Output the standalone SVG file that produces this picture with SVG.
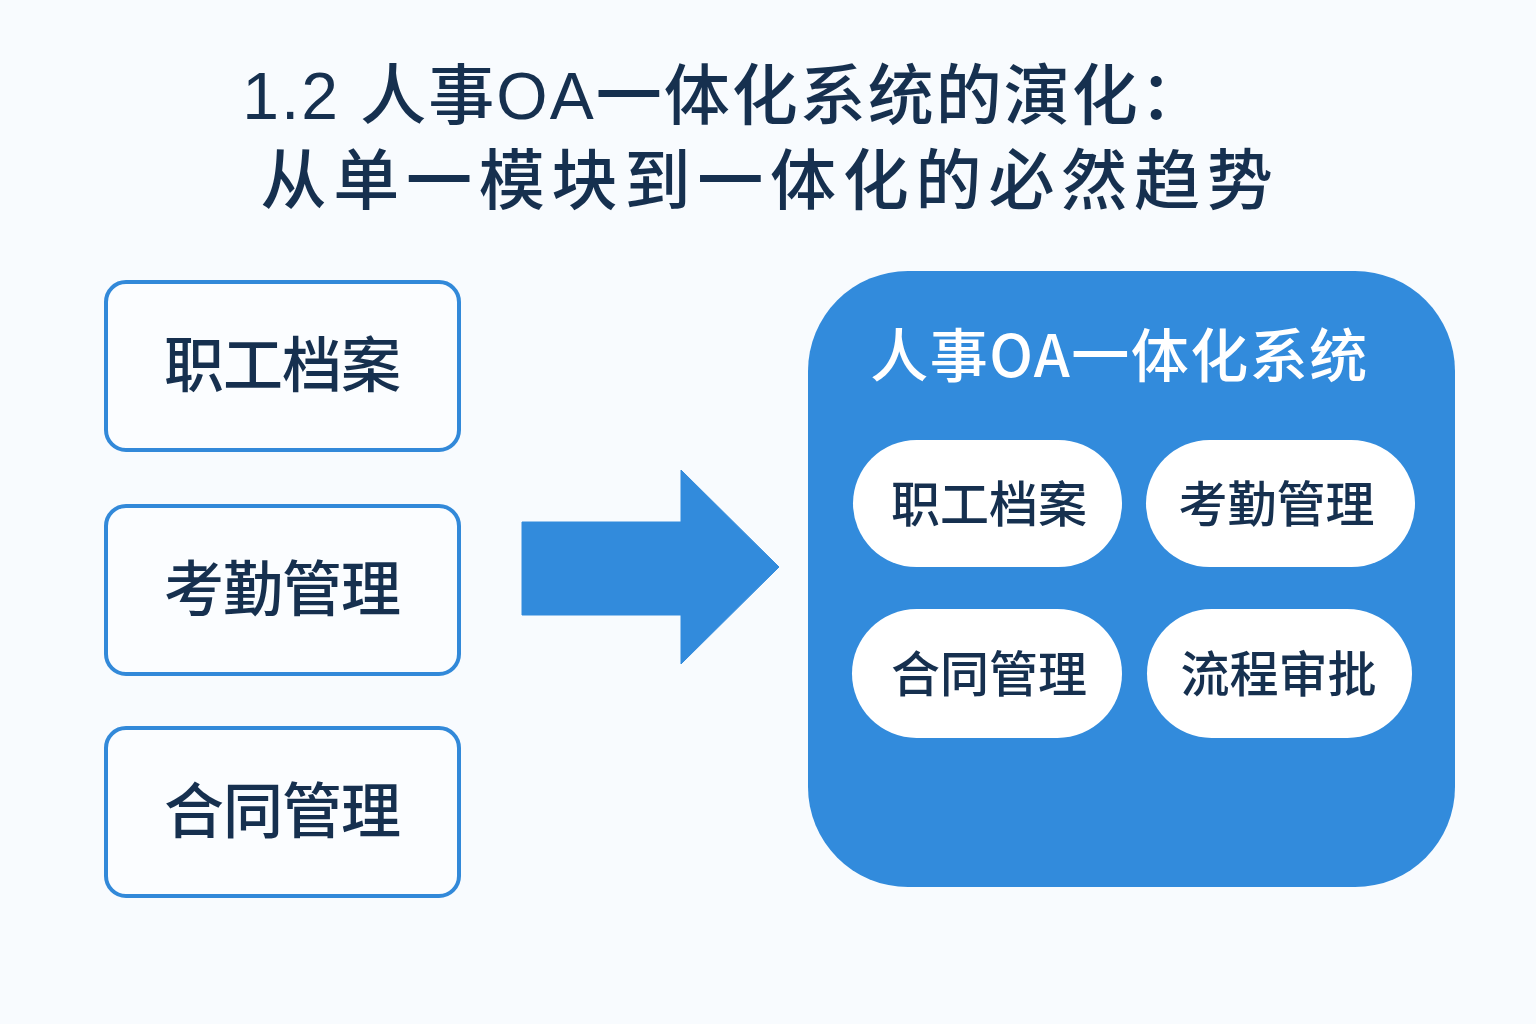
<svg xmlns="http://www.w3.org/2000/svg" width="1536" height="1024" viewBox="0 0 1536 1024">
<style>
text{font-family:"Noto Sans CJK SC","Noto Sans",sans-serif;text-anchor:middle}
.t{font-family:"Liberation Sans","Noto Sans CJK SC",sans-serif;font-size:66px;fill:#16304f;font-weight:500}
.b{fill:#fbfdff;stroke:#3289d9;stroke-width:4}
.bt{font-size:60px;fill:#16304f;font-weight:500;letter-spacing:-1px}
.p{fill:#fff}
.pt{font-size:49px;fill:#16304f;font-weight:500}
</style>
<rect width="1536" height="1024" fill="#f8fbfe"/>
<g id="title">
<text class="t" x="725" y="119" letter-spacing="2">1.2 人事OA一体化系统的演化：</text>
<text class="t" x="770" y="204" letter-spacing="6.800">从单一模块到一体化的必然趋势</text>
</g>
<g id="left1"><rect class="b" x="106" y="282" width="353" height="168" rx="20"/><text class="bt" x="282" y="387">职工档案</text></g>
<g id="left2"><rect class="b" x="106" y="506" width="353" height="168" rx="20"/><text class="bt" x="282" y="611">考勤管理</text></g>
<g id="left3"><rect class="b" x="106" y="728" width="353" height="168" rx="20"/><text class="bt" x="282" y="833">合同管理</text></g>
<g id="connectors"><path d="M522 522H681V470L779 567L681 664V615H522Z" fill="#328bdc" stroke="#328bdc" stroke-width="1" stroke-linejoin="round"/></g>
<g id="system">
<rect x="808" y="271" width="647" height="616" rx="100" fill="#328bdc"/>
<text x="1119.500" y="377" font-size="58" fill="#fff" font-weight="500" letter-spacing="1.500">人事OA一体化系统</text>
</g>
<g id="p1"><rect class="p" x="853" y="440" width="269" height="127" rx="63.500"/><text class="pt" x="989" y="522">职工档案</text></g>
<g id="p2"><rect class="p" x="1146" y="440" width="269" height="127" rx="63.500"/><text class="pt" x="1276.500" y="522">考勤管理</text></g>
<g id="p3"><rect class="p" x="852" y="609" width="270" height="129" rx="64.500"/><text class="pt" x="989" y="692">合同管理</text></g>
<g id="p4"><rect class="p" x="1147" y="609" width="265" height="129" rx="64.500"/><text class="pt" x="1278.500" y="692">流程审批</text></g>
</svg>
